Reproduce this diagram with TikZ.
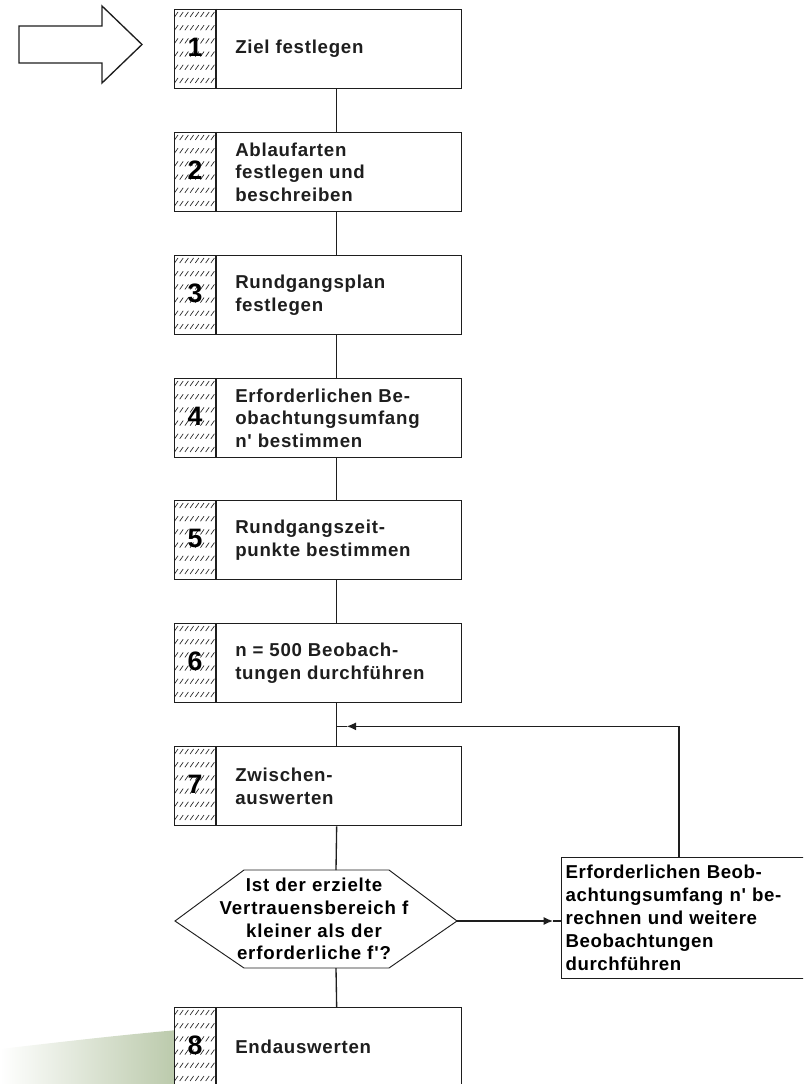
\documentclass[tikz,border=0pt]{standalone}
\usepackage{fontspec}
\setmainfont{Liberation Sans}
\newfontfamily\boxfont[LetterSpace=4,BoldFont={Liberation Sans Bold}]{Liberation Sans}
\newfontfamily\hexfont[LetterSpace=4.5,BoldFont={Liberation Sans Bold}]{Liberation Sans}
\newfontfamily\sidefont[LetterSpace=3,BoldFont={Liberation Sans Bold}]{Liberation Sans}
\usetikzlibrary{arrows.meta,calc}
\definecolor{sage}{RGB}{186,201,170}
\definecolor{inkc}{RGB}{30,30,30}

\newcommand\stepblock[4]{%
  \node[stepbox] (#1) at (174,#2) {};
  \begin{scope}
    \clip ($(#1.north west)+(1,1)$) rectangle ($(#1.south west)+(41,-1)$);
    \foreach \ii in {0,...,5}{
      \foreach \jj in {0,...,8}{
        \draw[hatchline] ($(#1.north west)+(\jj*5.2+0.5,\ii*13.2+8)$) -- ++(3.5,-5);
      }
    }
  \end{scope}
  \draw[conn] ($(#1.north west)+(42,0)$) -- ($(#1.south west)+(42,0)$);
  \node[stepnum] (#1n) at ($(#1.west)+(21,-2)$) {#3};
  \node[steptext] (#1t) at ($(#1.west)+(61,0)$) {#4};
}

\begin{document}
\begin{tikzpicture}[x=0.75pt,y=-0.75pt,
  stepbox/.style={draw=inkc, line width=1pt, minimum width=215.25pt, minimum height=59.25pt, inner sep=0pt, anchor=north west, fill=white},
  steptext/.style={anchor=west, align=left, inner sep=0pt, text=inkc, font=\boxfont\bfseries\fontsize{14}{17}\selectfont},
  stepnum/.style={inner sep=0pt, text=black, font=\bfseries\fontsize{20}{20}\selectfont},
  conn/.style={line width=1pt, draw=inkc},
  hatchline/.style={line width=0.5pt, draw=black!85},
  tip/.style={-{Latex[length=7pt,width=6pt]}},
  hexstyle/.style={align=center, inner sep=0pt, text=black, font=\hexfont\bfseries\fontsize{14}{17}\selectfont},
  sidebox/.style={draw=inkc, line width=1pt, anchor=north west, align=left, fill=white, text width=180pt, minimum height=90.75pt, inner sep=3pt, text=black, font=\sidefont\bfseries\fontsize{14}{17.2}\selectfont},
]
\useasboundingbox (0,0) rectangle (803,1084);
\clip (0,0) rectangle (803,1084);

% decorative swoosh (bottom left)
\shade[left color=white, right color=sage] (0,1049) .. controls (60,1042) and (120,1035) .. (178,1030) -- (178,1084) -- (0,1084) -- cycle;

% big entry arrow
\draw[line width=1pt, draw=inkc, fill=white] (19,26) -- (102,26) -- (102,6) -- (142,44.5) -- (102,83) -- (102,63) -- (19,63) -- cycle;

% steps
\stepblock{b1}{9}{1}{Ziel festlegen}
\stepblock{b2}{132}{2}{Ablaufarten\\festlegen und\\beschreiben}
\stepblock{b3}{255}{3}{Rundgangsplan\\festlegen}
\stepblock{b4}{378}{4}{Erforderlichen Be-\\obachtungsumfang\\n' bestimmen}
\stepblock{b5}{500}{5}{Rundgangszeit-\\punkte bestimmen}
\stepblock{b6}{623}{6}{n = 500 Beobach-\\tungen durchführen}
\stepblock{b7}{746}{7}{Zwischen-\\auswerten}
\stepblock{b8}{1007}{8}{Endauswerten}

% vertical connectors
\draw[conn] ($(b1.south)+(18.5,0)$) -- ($(b2.north)+(18.5,0)$);
\draw[conn] ($(b2.south)+(18.5,0)$) -- ($(b3.north)+(18.5,0)$);
\draw[conn] ($(b3.south)+(18.5,0)$) -- ($(b4.north)+(18.5,0)$);
\draw[conn] ($(b4.south)+(18.5,0)$) -- ($(b5.north)+(18.5,0)$);
\draw[conn] ($(b5.south)+(18.5,0)$) -- ($(b6.north)+(18.5,0)$);
\draw[conn] ($(b6.south)+(18.5,0)$) -- ($(b7.north)+(18.5,0)$);

% decision hexagon
\coordinate (hxw) at (175,921);
\coordinate (hxe) at (457,921);
\coordinate (hxn) at (336,870);
\coordinate (hxs) at (336,968);
\draw[line width=0.7pt, draw=inkc, fill=white] (hxw) -- (244,870) -- (389,870) -- (hxe) -- (389,968) -- (244,968) -- cycle;
\node[hexstyle] (hq) at (314,919) {Ist der erzielte\\Vertrauensbereich f\\kleiner als der\\erforderliche f'?};
\draw[conn] ($(b7.south)+(18.5,0)$) -- (hxn);
\draw[conn] (hxs) -- ($(b8.north)+(18.5,0)$);

% side box
\node[sidebox] (rb) at (561,857) {Erforderlichen Beob-\\achtungsumfang n' be-\\rechnen und weitere\\Beobachtungen\\durchführen};

% arrow decision -> side box
\coordinate (a2tip) at (553,921);
\draw[conn, tip] (hxe) -- (a2tip);
\draw[conn] (a2tip) -- ($(rb.north west)+(0,64)$);

% feedback loop
\coordinate (jn) at ($(b6.south)+(18.5,23)$);
\coordinate (fbtip) at ($(jn)+(10,0)$);
\draw[conn, tip] ($(rb.north west)+(118,0)$) |- (fbtip);
\draw[conn] (fbtip) -- (jn);
\end{tikzpicture}
\end{document}
